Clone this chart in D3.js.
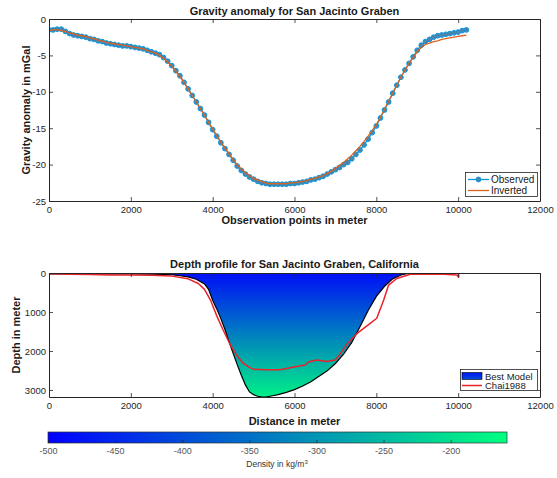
<!DOCTYPE html>
<html>
<head>
<meta charset="utf-8">
<script src="https://cdn.jsdelivr.net/npm/d3@7"></script>
<style>
  body { margin: 0; background: #fff; }
  text { font-family: "Liberation Sans", Arial, Helvetica, sans-serif; }
</style>
</head>
<body>
<svg id="fig" width="557" height="478"></svg>
<script>
// ---- Gravity profile: observation points (m) and anomaly (mGal) ----
const stations = [0,100,200,300,400,500,600,700,800,900,1000,1100,1200,1300,1400,1500,1600,1700,1800,1900,
  2000,2100,2200,2300,2400,2500,2600,2700,2800,2900,3000,3100,3200,3300,3400,3500,3600,3700,3800,3900,
  4000,4100,4200,4300,4400,4500,4600,4700,4800,4900,5000,5100,5200,5300,5400,5500,5600,5700,5800,5900,
  6000,6100,6200,6300,6400,6500,6600,6700,6800,6900,7000,7100,7200,7300,7400,7500,7600,7700,7800,7900,
  8000,8100,8200,8300,8400,8500,8600,8700,8800,8900,9000,9100,9200,9300,9400,9500,9600,9700,9800,9900,
  10000,10100,10200];
const observed = [-1.5,-1.5,-1.4,-1.4,-1.7,-2.0,-2.2,-2.3,-2.4,-2.5,-2.7,-2.8,-3.0,-3.1,-3.3,-3.4,-3.5,-3.6,-3.7,-3.7,
  -3.8,-3.9,-4.0,-4.1,-4.3,-4.5,-4.7,-4.9,-5.3,-5.8,-6.4,-7.1,-7.8,-8.7,-9.6,-10.5,-11.4,-12.3,-13.2,-14.2,
  -15.2,-16.1,-17.0,-17.8,-18.6,-19.4,-20.2,-20.8,-21.3,-21.7,-22.0,-22.3,-22.5,-22.6,-22.7,-22.7,-22.7,-22.7,-22.7,-22.6,
  -22.6,-22.5,-22.4,-22.3,-22.1,-22.0,-21.8,-21.6,-21.3,-21.0,-20.7,-20.4,-20.0,-19.7,-19.2,-18.6,-18.0,-17.3,-16.5,-15.6,
  -14.7,-13.6,-12.5,-11.4,-10.2,-9.1,-8.0,-7.0,-6.1,-5.2,-4.3,-3.6,-3.1,-2.8,-2.5,-2.3,-2.2,-2.1,-2.0,-1.9,
  -1.8,-1.6,-1.5];
const inverted = [-1.6,-1.5,-1.5,-1.6,-1.7,-1.9,-2.0,-2.2,-2.3,-2.4,-2.6,-2.7,-2.9,-3.0,-3.2,-3.3,-3.4,-3.5,-3.6,-3.7,
  -3.8,-3.9,-4.0,-4.1,-4.3,-4.5,-4.7,-5.0,-5.4,-5.9,-6.5,-7.2,-7.9,-8.7,-9.6,-10.5,-11.4,-12.3,-13.2,-14.2,
  -15.1,-16.0,-16.9,-17.7,-18.5,-19.3,-20.0,-20.6,-21.1,-21.5,-21.9,-22.1,-22.3,-22.5,-22.6,-22.6,-22.6,-22.6,-22.6,-22.5,
  -22.5,-22.4,-22.3,-22.2,-22.0,-21.9,-21.7,-21.5,-21.2,-20.9,-20.5,-20.1,-19.7,-19.2,-18.7,-18.1,-17.5,-16.8,-16.1,-15.3,
  -14.5,-13.5,-12.4,-11.3,-10.2,-9.1,-8.0,-7.0,-6.1,-5.3,-4.5,-3.9,-3.5,-3.3,-3.1,-3.0,-2.8,-2.7,-2.6,-2.5,
  -2.4,-2.3,-2.2];

// ---- Basin depth profile (m) ----
const modelX = [0,500,1000,1500,2000,2500,3000,3200,3400,3600,3800,3900,4000,4100,4200,4300,4400,4500,4600,4700,
  4800,4900,5000,5100,5200,5300,5400,5600,5800,6000,6200,6400,6600,6800,7000,7200,7400,7600,7800,8000,
  8200,8400,8600,8800,9000,9500,10000];
const modelDepth = [20,20,25,25,25,30,45,70,100,160,280,420,700,920,1170,1450,1760,2060,2350,2620,
  2870,3050,3120,3160,3180,3180,3160,3120,3060,2990,2900,2790,2650,2510,2320,2080,1780,1380,960,600,
  340,150,50,5,0,0,0];
const chaiX = [0,500,1000,1500,2000,2500,3000,3400,3650,3800,3950,4100,4250,4420,4600,4750,4900,5000,5300,5650,
  6050,6260,6340,6540,6790,6990,7100,7280,7530,7850,8010,8180,8300,8500,8830,9650,9970,10010,10010];
const chaiDepth = [20,30,40,50,50,60,80,150,270,420,700,1100,1450,1820,2130,2320,2420,2470,2480,2480,
  2400,2360,2280,2230,2270,2230,2100,1830,1550,1290,1160,690,310,140,30,30,50,110,10];

// ---- Axis ticks and labels ----
const distTicks = [0,2000,4000,6000,8000,10000,12000];
const gravTicks = [-25,-20,-15,-10,-5,0];
const depthTicks = [0,1000,2000,3000];
const densityTicks = [-500,-450,-400,-350,-300,-250,-200];
const densityLimits = [-500,-158];
const depthMax = 3180;
const fillDensity = [-480,-178];   // density at the top and base of the model fill

const titles = ["Gravity anomaly for San Jacinto Graben", "Depth profile for San Jacinto Graben, California"];
const gravLegend = ["Observed", "Inverted"];
const depthLegend = ["Best Model", "Chai1988"];

// ---- Styling ----
const axisColor = "#262626";
const blue = "#0a97e0", orange = "#d9621f", red = "#e8232b";
const winter = t => `rgb(0,${Math.round(255*t)},${Math.round(255*(1-0.5*t))})`;
const fmt = d => String(d);

const svg = d3.select("#fig");
const defs = svg.append("defs");

const xTop = d3.scaleLinear().domain([0,12000]).range([49,540]);
const yTop = d3.scaleLinear().domain([-25,0]).range([201,19]);
const xBot = d3.scaleLinear().domain([0,12000]).range([49,540]);
const yBot = d3.scaleLinear().domain([0,depthMax]).range([273,397]);
const cbX = d3.scaleLinear().domain(densityLimits).range([48,507]);
const dens2t = d3.scaleLinear().domain(densityLimits).range([0,1]).clamp(true);

function drawAxes(x, y, xt, yt) {
  const [x0,x1] = x.range(), [yA,yB] = y.range();
  const yb = Math.max(yA,yB), ytp = Math.min(yA,yB);
  const g = svg.append("g");
  const style = sel => {
    sel.selectAll("path,line").attr("stroke", axisColor).attr("stroke-width", 0.8);
    sel.selectAll("text").attr("fill", axisColor).attr("font-size", "9.5px");
  };
  g.append("g").attr("transform",`translate(0,${yb})`)
    .call(d3.axisBottom(x).tickValues(xt).tickFormat(fmt).tickSize(-4).tickSizeOuter(0).tickPadding(5)).call(style);
  g.append("g").attr("transform",`translate(0,${ytp})`)
    .call(d3.axisTop(x).tickValues(xt).tickFormat("").tickSize(-4).tickSizeOuter(0)).call(style);
  g.append("g").attr("transform",`translate(${x0},0)`)
    .call(d3.axisLeft(y).tickValues(yt).tickFormat(fmt).tickSize(-4).tickSizeOuter(0).tickPadding(3)).call(style);
  g.append("g").attr("transform",`translate(${x1},0)`)
    .call(d3.axisRight(y).tickValues(yt).tickFormat("").tickSize(-4).tickSizeOuter(0)).call(style);
  g.selectAll(".domain").attr("stroke-width", 1);
  return g;
}

function label(txt, x, y, opts = {}) {
  const t = svg.append("text").attr("x", x).attr("y", y)
    .attr("text-anchor", "middle").attr("fill", opts.fill || "#1a1a1a")
    .attr("font-size", opts.size || "11px").attr("font-weight", opts.weight || "bold").text(txt);
  if (opts.rotate) t.attr("transform", `rotate(-90,${x},${y})`);
  return t;
}

// ================= Gravity anomaly panel =================
defs.append("clipPath").attr("id","clipTop").append("rect")
  .attr("x",49).attr("y",19).attr("width",491).attr("height",182);
const gTop = svg.append("g").attr("clip-path","url(#clipTop)");
const gravPts = stations.map((s,i) => ({x:s, o:observed[i], v:inverted[i]}));

gTop.append("path").datum(gravPts)
  .attr("d", d3.line().x(d => xTop(d.x)).y(d => yTop(d.o)))
  .attr("fill","none").attr("stroke",blue).attr("stroke-width",1.3);
gTop.selectAll("circle.obs").data(gravPts).join("circle").attr("class","obs")
  .attr("cx", d => xTop(d.x)).attr("cy", d => yTop(d.o)).attr("r", 2.4)
  .attr("fill","#4d86aa").attr("stroke",blue).attr("stroke-width",1);
gTop.append("path").datum(gravPts)
  .attr("d", d3.line().x(d => xTop(d.x)).y(d => yTop(d.v)))
  .attr("fill","none").attr("stroke",orange).attr("stroke-width",1.3);

drawAxes(xTop, yTop, distTicks, gravTicks);
label(titles[0], 294.5, 14.5);
label("Observation points in meter", 294.5, 224);
label("Gravity anomaly in mGal", 29.5, 110, {rotate:true});

// legend
const lg1 = svg.append("g");
lg1.append("rect").attr("x",465.5).attr("y",172.5).attr("width",72).attr("height",24)
  .attr("fill","#fff").attr("stroke",axisColor).attr("stroke-width",0.8);
lg1.append("line").attr("x1",468).attr("x2",489).attr("y1",179.5).attr("y2",179.5)
  .attr("stroke",blue).attr("stroke-width",1.3);
lg1.append("circle").attr("cx",478.5).attr("cy",179.5).attr("r",2.4)
  .attr("fill","#4d86aa").attr("stroke",blue);
lg1.append("line").attr("x1",468).attr("x2",489).attr("y1",190.5).attr("y2",190.5)
  .attr("stroke",orange).attr("stroke-width",1.3);
lg1.selectAll("text").data(gravLegend).join("text")
  .attr("x",491).attr("y",(d,i) => 183 + i*11).attr("font-size","10px").attr("fill","#1a1a1a").text(d => d);

// ================= Depth profile panel =================
const gradFill = defs.append("linearGradient").attr("id","depthGrad")
  .attr("gradientUnits","userSpaceOnUse").attr("x1",0).attr("x2",0)
  .attr("y1",yBot(0)).attr("y2",yBot(depthMax));
d3.range(0,1.0001,0.1).forEach(f => {
  const dens = fillDensity[0] + f*(fillDensity[1]-fillDensity[0]);
  gradFill.append("stop").attr("offset", f).attr("stop-color", winter(dens2t(dens)));
});

defs.append("clipPath").attr("id","clipBot").append("rect")
  .attr("x",49).attr("y",273).attr("width",491).attr("height",124);
const gBot = svg.append("g").attr("clip-path","url(#clipBot)");
const modelPts = modelX.map((m,i) => ({x:m, d:modelDepth[i]}));
gBot.append("path").datum(modelPts)
  .attr("d", d3.area().x(d => xBot(d.x)).y0(yBot(0)).y1(d => yBot(d.d)))
  .attr("fill","url(#depthGrad)");
gBot.append("path").datum(modelPts)
  .attr("d", d3.line().x(d => xBot(d.x)).y(d => yBot(d.d)))
  .attr("fill","none").attr("stroke","#000").attr("stroke-width",1.2);
const chaiPts = chaiX.map((c,i) => ({x:c, d:chaiDepth[i]}));
gBot.append("path").datum(chaiPts)
  .attr("d", d3.line().x(d => xBot(d.x)).y(d => yBot(d.d)))
  .attr("fill","none").attr("stroke",red).attr("stroke-width",1.5).attr("stroke-linejoin","round");

drawAxes(xBot, yBot, distTicks, depthTicks);
label(titles[1], 294.5, 268);
label("Distance in meter", 294.5, 424.5);
label("Depth in meter", 19.5, 335, {rotate:true});

// legend
const lg2 = svg.append("g");
lg2.append("rect").attr("x",460.5).attr("y",369.5).attr("width",77).attr("height",21)
  .attr("fill","#fff").attr("stroke",axisColor).attr("stroke-width",0.8);
lg2.append("rect").attr("x",462).attr("y",372.5).attr("width",20).attr("height",7)
  .attr("fill","url(#legGrad)").attr("stroke","#000").attr("stroke-width",0.6);
const legGrad = defs.append("linearGradient").attr("id","legGrad").attr("x1",0).attr("x2",0).attr("y1",0).attr("y2",1);
legGrad.append("stop").attr("offset",0).attr("stop-color",winter(0.08));
legGrad.append("stop").attr("offset",1).attr("stop-color",winter(0.3));
lg2.append("line").attr("x1",462).attr("x2",482).attr("y1",385.5).attr("y2",385.5)
  .attr("stroke",red).attr("stroke-width",1.5);
lg2.selectAll("text").data(depthLegend).join("text")
  .attr("x",485).attr("y",(d,i) => 379.5 + i*9.5).attr("font-size","9.5px").attr("fill","#1a1a1a").text(d => d);

// ================= Colorbar =================
const cbGrad = defs.append("linearGradient").attr("id","cbGrad").attr("x1",0).attr("x2",1).attr("y1",0).attr("y2",0);
d3.range(0,1.0001,0.1).forEach(t => cbGrad.append("stop").attr("offset",t).attr("stop-color",winter(t)));
svg.append("rect").attr("x",cbX.range()[0]).attr("y",432).attr("width",cbX.range()[1]-cbX.range()[0]).attr("height",11)
  .attr("fill","url(#cbGrad)").attr("stroke","#333").attr("stroke-width",0.7);
svg.append("g").attr("transform","translate(0,443)")
  .call(d3.axisBottom(cbX).tickValues(densityTicks).tickFormat(fmt).tickSize(-3).tickSizeOuter(0).tickPadding(5))
  .call(g => {
    g.select(".domain").remove();
    g.selectAll("line").attr("stroke","#222").attr("stroke-opacity",0.7);
    g.selectAll("text").attr("fill","#555").attr("font-size","9px");
  });
const cbl = svg.append("text").attr("x",277).attr("y",467).attr("text-anchor","middle")
  .attr("font-size","8.5px").attr("fill","#333");
cbl.append("tspan").text("Density in kg/m");
cbl.append("tspan").attr("font-size","6px").attr("dy","-3.5").text("3");
</script>
</body>
</html>
